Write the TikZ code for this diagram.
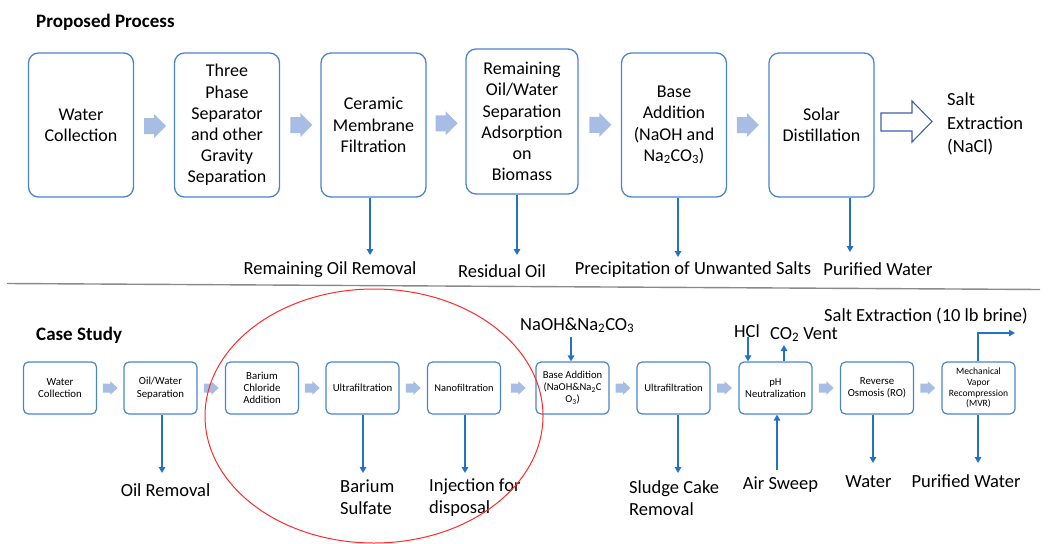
\documentclass[tikz,border=0pt]{standalone}
\usepackage{fontspec}
\setmainfont{Carlito}
\usetikzlibrary{arrows.meta,calc}

\definecolor{boxblue}{HTML}{4A84CC}
\definecolor{flowblue}{HTML}{2272C8}
\definecolor{stepfill}{HTML}{A8BDE3}
\definecolor{hollowblue}{HTML}{3F62A4}
\definecolor{ringred}{HTML}{FF2A2A}
\definecolor{rulegray}{HTML}{8A8A8A}

\begin{document}
\begin{tikzpicture}[x=1pt,y=-1pt,
  bigbox/.style={draw=boxblue, line width=1.3pt, rounded corners=10pt,
    minimum width=105pt, minimum height=144pt, align=center, inner sep=0pt,
    font=\fontsize{18}{21.2}\selectfont},
  smallbox/.style={draw=boxblue, line width=1.2pt, rounded corners=5pt,
    minimum width=73pt, minimum height=52pt, align=center, inner sep=0pt,
    font=\fontsize{10.8}{12.5}\selectfont},
  flow/.style={draw=flowblue, line width=1.7pt, -{Triangle[width=6.5pt,length=6pt]}},
  lbl/.style={font=\fontsize{18.5}{22.5}\selectfont, inner sep=0pt},
  heading/.style={font=\bfseries\fontsize{19}{22}\selectfont, inner sep=0pt, anchor=base west},
  bigstep/.pic={\fill[stepfill] (-11,-8) -- (-1,-8) -- (-1,-12) -- (11,0) -- (-1,12) -- (-1,8) -- (-11,8) -- cycle;},
  smallstep/.pic={\fill[stepfill] (-7.5,-4.5) -- (0,-4.5) -- (0,-6.8) -- (7.5,0) -- (0,6.8) -- (0,4.5) -- (-7.5,4.5) -- cycle;}
]
\useasboundingbox (0,0) rectangle (1048,543);

% ---------------- proposed process ----------------
\node[heading] (t1) at (36,27.5) {Proposed Process};

\node[bigbox] (p1) at (81,125) {Water\\Collection};
\node[bigbox] (p2) at (227,125) {Three\\Phase\\Separator\\and other\\Gravity\\Separation};
\node[bigbox] (p3) at (373.5,125) {Ceramic\\Membrane\\Filtration};
\node[bigbox, minimum width=112pt, minimum height=145pt] (p4) at (522,121.5)
  {Remaining\\Oil/Water\\Separation\\Adsorption\\on\\Biomass};
\node[bigbox] (p5) at (674,125) {Base\\Addition\\(NaOH and\\Na\textsubscript{2}CO\textsubscript{3})};
\node[bigbox] (p6) at (821.5,125) {Solar\\Distillation};

\pic at ($(p1.east)!.5!(p2.west)+(1,1)$) {bigstep};
\pic at ($(p2.east)!.5!(p3.west)+(1,0)$) {bigstep};
\pic at ($(p3.east)!.5!(p4.west)+(0.5,0)$) {bigstep};
\pic at ($(p4.east)!.5!(p5.west)+(0.5,1.5)$) {bigstep};
\pic at ($(p5.east)!.5!(p6.west)$) {bigstep};

% hollow arrow towards the salt product
\draw[hollowblue, line width=1.1pt, fill=white]
  (881,113) -- (912,113) -- (912,101) -- (932,121.5) -- (912,142) -- (912,131) -- (881,131) -- cycle;
\node[lbl, anchor=west, align=left, font=\fontsize{18.5}{23.5}\selectfont] (salt1) at (947,124)
  {Salt\\Extraction\\(NaCl)};

\coordinate (e3) at (370,255);
\coordinate (e4) at (517,255);
\coordinate (e5) at (678,257);
\coordinate (e6) at (850,252);
\draw[flow] (p3.south -| e3) -- (e3);
\draw[flow] (p4.south -| e4) -- (e4);
\draw[flow] (p5.south -| e5) -- (e5);
\draw[flow] (p6.south -| e6) -- (e6);

\node[lbl, anchor=base] (o3) at (330,274.5) {Remaining Oil Removal};
\node[lbl, anchor=base] (o4) at (502,277.5) {Residual Oil};
\node[lbl, anchor=base] (o5) at (693,274) {Precipitation of Unwanted Salts};
\node[lbl, anchor=base] (o6) at (878,275) {Purified Water};

% separator
\draw[rulegray, line width=1.4pt] (7,283.5) -- (1040,289.5);

% ---------------- case study ----------------
\node[heading] (t2) at (36,340) {Case Study};

\node[smallbox] (c1) at (60,388) {Water\\Collection};
\node[smallbox] (c2) at (160.5,388) {Oil/Water\\Separation};
\node[smallbox, font=\fontsize{10.8}{12}\selectfont] (c3) at (262,388) {Barium\\Chloride\\Addition};
\node[smallbox] (c4) at (362.5,388) {Ultrafiltration};
\node[smallbox, font=\fontsize{10.4}{12}\selectfont] (c5) at (464,388) {Nanofiltration};
\node[smallbox, font=\fontsize{10.6}{12}\selectfont] (c6) at (572.5,388)
  {Base Addition\\(NaOH\&Na\textsubscript{2}C\\O\textsubscript{3})};
\node[smallbox, font=\fontsize{10.6}{12}\selectfont] (c7) at (673.5,388) {Ultrafiltration};
\node[smallbox, font=\fontsize{10.6}{12.5}\selectfont] (c8) at (775.5,388) {pH\\Neutralization};
\node[smallbox] (c9) at (877,388) {Reverse\\Osmosis (RO)};
\node[smallbox, font=\fontsize{9.6}{10.8}\selectfont] (c10) at (978.5,388)
  {Mechanical\\Vapor\\Recompression\\(MVR)};

\foreach \a/\b in {c1/c2,c2/c3,c3/c4,c4/c5,c5/c6,c6/c7,c7/c8,c8/c9,c9/c10}
  \pic at ($(\a.east)!.5!(\b.west)$) {smallstep};

% outlets and inlets
\coordinate (b2) at (162,473);
\coordinate (b4) at (363,473);
\coordinate (b5) at (465,473);
\coordinate (b7) at (678,473);
\coordinate (b9) at (873,463);
\coordinate (b10) at (978,463);
\draw[flow] (c2.south -| b2) -- (b2);
\draw[flow] (c4.south -| b4) -- (b4);
\draw[flow] (c5.south -| b5) -- (b5);
\draw[flow] (c7.south -| b7) -- (b7);
\draw[flow] (c9.south -| b9) -- (b9);
\draw[flow] (c10.south -| b10) -- (b10);

\coordinate (n6) at (571,337);
\draw[flow] (n6) -- (n6 |- c6.north);
\coordinate (h8) at (748,337);
\draw[flow] (h8) -- (h8 |- c8.north);
\coordinate (v8) at (784,345);
\draw[flow] (c8.north -| v8) -- (v8);
\coordinate (a8) at (777,470);
\draw[flow] (a8) -- (a8 |- c8.south);
\coordinate (m1) at (978,333);
\coordinate (m2) at (1015,333);
\draw[flow] (c10.north -| m1) -- (m1) -- (m2);

\node[lbl, anchor=base] (l2) at (165.5,496) {Oil Removal};
\node[lbl, anchor=west, align=left] (l4) at (340,497) {Barium\\Sulfate};
\node[lbl, anchor=west, align=left] (l5) at (429,497.5) {Injection for\\disposal};
\node[lbl, anchor=base west] (l6) at (520,330) {NaOH\&Na\textsubscript{2}CO\textsubscript{3}};
\node[lbl, anchor=west, align=left] (l7) at (629,498) {Sludge Cake\\Removal};
\node[lbl, anchor=base] (l8a) at (747,337) {HCl};
\node[lbl, anchor=base west] (l8b) at (770,339) {CO\textsubscript{2} Vent};
\node[lbl, anchor=base] (l8c) at (780.5,489) {Air Sweep};
\node[lbl, anchor=base] (l9) at (868.5,487) {Water};
\node[lbl, anchor=base] (l10) at (966,487) {Purified Water};
\node[lbl, anchor=base] (l10b) at (926,321) {Salt Extraction (10 lb brine)};

% highlighted barium removal section
\draw[ringred, line width=1pt] (374,416) ellipse [x radius=169, y radius=127];
\end{tikzpicture}
\end{document}
